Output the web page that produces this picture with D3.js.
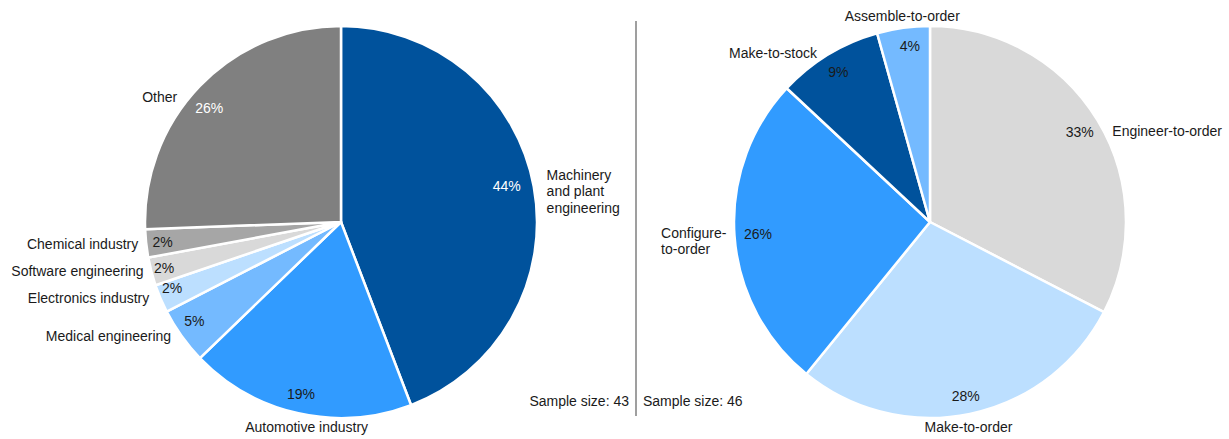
<!DOCTYPE html>
<html>
<head>
<meta charset="utf-8">
<script src="https://cdn.jsdelivr.net/npm/d3@7/dist/d3.min.js"></script>
<style>
  body { margin: 0; background: #fff; }
  svg text { font-family: "Liberation Sans", Arial, sans-serif; font-size: 14px; fill: #1a1a1a; }
</style>
</head>
<body>
<svg id="chart" width="1229" height="439"></svg>
<script>
// left pie: industries (counts out of 43)
var industryLabels = ["Machinery\nand plant\nengineering", "Automotive industry", "Medical engineering",
                      "Electronics industry", "Software engineering", "Chemical industry", "Other"];
var industryCounts = [19, 8, 2, 1, 1, 1, 11];
var industryColors = ["#00529c", "#319bff", "#74baff", "#bcdfff", "#d9d9d9", "#a6a6a6", "#808080"];

// right pie: production types (counts out of 46)
var typeLabels = ["Engineer-to-order", "Make-to-order", "Configure-\nto-order", "Make-to-stock", "Assemble-to-order"];
var typeCounts = [15, 13, 12, 4, 2];
var typeColors = ["#d9d9d9", "#bcdfff", "#319bff", "#00529c", "#74baff"];

var sampleSizes = [43, 46];

// hand-placed offsets of the original layout, in pixels
var labelNudge = {
    "Machinery\nand plant\nengineering": [5, 12],
    "Other": [-17, 24],
    "Medical engineering": [-4, -8],
    "Electronics industry": [-4, -6],
    "Software engineering": [0, -3],
    "Automotive industry": [10, -1],
    "Engineer-to-order": [8, 21],
    "Make-to-stock": [-7, 14],
    "Assemble-to-order": [0, 6],
    "Make-to-order": [-3, -2],
    "Configure-\nto-order": [0, 5]
};
var pctNudge = {
    "Machinery\nand plant\nengineering": [-2, -5],
    "Other": [-9, 4],
    "Automotive industry": [-3, 6],
    "Medical engineering": [-8, 0],
    "Electronics industry": [-12, -1],
    "Software engineering": [-12, 3],
    "Chemical industry": [-9, 1],
    "Engineer-to-order": [4, -1],
    "Make-to-order": [1, 7],
    "Configure-\nto-order": [-2, 0],
    "Make-to-stock": [-3, -4],
    "Assemble-to-order": [3, -7]
};

var svg = d3.select("#chart"),
    radius = 196,
    lineH = 16.5;

function nudge(map, label) {
    return map[label] || [0, 0];
}

function drawPie(cx, cy, labels, counts, colors, darkIdx) {
    var total = d3.sum(counts),
        pie = d3.pie().sort(null).value(function(d) { return d; }),
        arc = d3.arc().innerRadius(0).outerRadius(radius),
        g = svg.append("g").attr("transform", "translate(" + cx + "," + cy + ")"),
        arcs = pie(counts);

    g.selectAll("path.slice")
        .data(arcs)
        .enter().append("path")
        .attr("class", "slice")
        .attr("d", arc)
        .attr("fill", function(d, i) { return colors[i]; })
        .attr("stroke", "#fff")
        .attr("stroke-width", 2.5)
        .attr("stroke-linejoin", "round");

    // percentages inside
    g.selectAll("text.pct")
        .data(arcs)
        .enter().append("text")
        .attr("class", "pct")
        .attr("x", function(d, i) {
            return Math.sin((d.startAngle + d.endAngle) / 2) * radius * 0.87 + nudge(pctNudge, labels[i])[0];
        })
        .attr("y", function(d, i) {
            return -Math.cos((d.startAngle + d.endAngle) / 2) * radius * 0.87 + 5 + nudge(pctNudge, labels[i])[1];
        })
        .attr("text-anchor", "middle")
        .style("fill", function(d, i) { return darkIdx.indexOf(i) >= 0 ? "#fff" : "#1a1a1a"; })
        .text(function(d) { return Math.round(d.value / total * 100) + "%"; });

    // category labels outside
    arcs.forEach(function(d, i) {
        var a = (d.startAngle + d.endAngle) / 2,
            s = Math.sin(a), c = Math.cos(a),
            px = s * (radius + 8),
            py = -c * (radius + 8),
            lines = labels[i].split("\n"),
            h = lines.length * lineH,
            anchor = s > 0.3 ? "start" : (s < -0.3 ? "end" : "middle"),
            centerY = py - c * h / 2,
            off = nudge(labelNudge, labels[i]),
            t = g.append("text")
                .attr("x", px + off[0])
                .attr("y", centerY - h / 2 + 12 + off[1]),
            spans;
        spans = lines.map(function(line, k) {
            return t.append("tspan")
                .attr("x", px + off[0])
                .attr("dy", k === 0 ? 0 : lineH)
                .text(line);
        });
        // multi-line labels are left aligned inside their box
        if (anchor === "end" && lines.length > 1) {
            var w = d3.max(spans, function(sp) { return sp.node().getComputedTextLength(); });
            spans.forEach(function(sp) { sp.attr("x", px + off[0] - w); });
        } else {
            t.attr("text-anchor", anchor);
        }
    });
}

drawPie(341, 222, industryLabels, industryCounts, industryColors, [0, 6]);
drawPie(930, 222, typeLabels, typeCounts, typeColors, []);

// divider and sample sizes
svg.append("line")
    .attr("x1", 636).attr("x2", 636)
    .attr("y1", 21).attr("y2", 416)
    .attr("stroke", "#7f7f7f").attr("stroke-width", 1.5);

svg.append("text")
    .attr("x", 629).attr("y", 406)
    .attr("text-anchor", "end")
    .text("Sample size: " + sampleSizes[0]);
svg.append("text")
    .attr("x", 643).attr("y", 406)
    .text("Sample size: " + sampleSizes[1]);
</script>
</body>
</html>
